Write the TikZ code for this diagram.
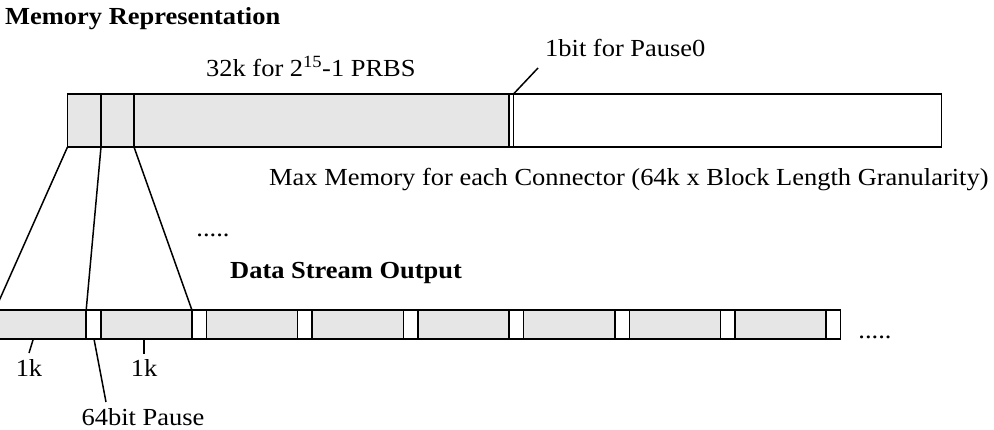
\documentclass[tikz,border=0pt]{standalone}
\usepackage{fontspec}
\setmainfont{Liberation Serif}[FakeStretch=1.08]
\definecolor{cellgray}{HTML}{E6E6E6}
\begin{document}
\begin{tikzpicture}[x=1pt,y=-1pt,
  txt/.style={inner sep=0pt, font=\fontsize{24.5}{28}\selectfont},
  btxt/.style={inner sep=0pt, font=\fontsize{24.5}{28}\selectfont\bfseries},
  bar/.style={line width=1.6pt},
  link/.style={line width=1.5pt}]
\useasboundingbox (0,0) rectangle (994,430);
\clip (0,0) rectangle (994,430);

% ---- top bar (memory)
\fill[cellgray] (67.5,94) rectangle (509,147);
\draw[bar] (67.5,94) rectangle (941.5,147);
\draw[bar] (101,94) -- (101,147) (134,94) -- (134,147)
           (509,94) -- (509,147) (513.5,94) -- (513.5,147);
\coordinate (m0) at (67.5,147);
\coordinate (m1) at (101,147);
\coordinate (m2) at (134,147);
\coordinate (p0) at (513.5,94);

% ---- bottom bar (data stream)
\foreach \k in {-1,...,6} {
  \pgfmathsetmacro\s{100.7+105.72*\k}
  \fill[cellgray] (\s,310) rectangle (\s+91.2,339);
  \draw[bar] (\s,310) -- (\s,339) (\s+91.2,310) -- (\s+91.2,339);
}
\draw[bar] (-5,310) rectangle (840.5,339);
\coordinate (d0) at (-5,310);
\coordinate (d1) at (86.2,310);
\coordinate (d2) at (191.9,310);
\coordinate (k1) at (33.3,339);
\coordinate (k2) at (144,339);
\coordinate (pz) at (94,339);

% ---- texts
\node[btxt, anchor=base west] (title) at (5,25) {Memory Representation};
\node[txt, anchor=base west] (prbs) at (206,77) {32k for 2\textsuperscript{15}-1 PRBS};
\node[txt, anchor=base west] (pause0) at (545,57) {1bit for Pause0};
\node[txt, anchor=base west] (maxmem) at (269,186) {Max Memory for each Connector (64k x Block Length Granularity)};
\node[txt] (dotsA) at (213,235) {.....};
\node[btxt, anchor=base west] (dso) at (230,279) {Data Stream Output};
\node[txt] (dotsB) at (875,337) {.....};
\node[txt, anchor=base] (oneA) at (29,377) {1k};
\node[txt, anchor=base] (oneB) at (144,377) {1k};
\node[txt, anchor=base] (pause64) at (143,426) {64bit Pause};

% ---- connectors
\draw[link] (m0) -- (d0);
\draw[link] (m1) -- (d1);
\draw[link] (m2) -- (d2);
\draw[link] (p0) -- (538,68) coordinate (p0e);
\draw[link] (k1) -- (29,353);
\draw[link] (k2) -- (144,354);
\draw[link] (pz) -- (106,402);
\end{tikzpicture}
\end{document}
